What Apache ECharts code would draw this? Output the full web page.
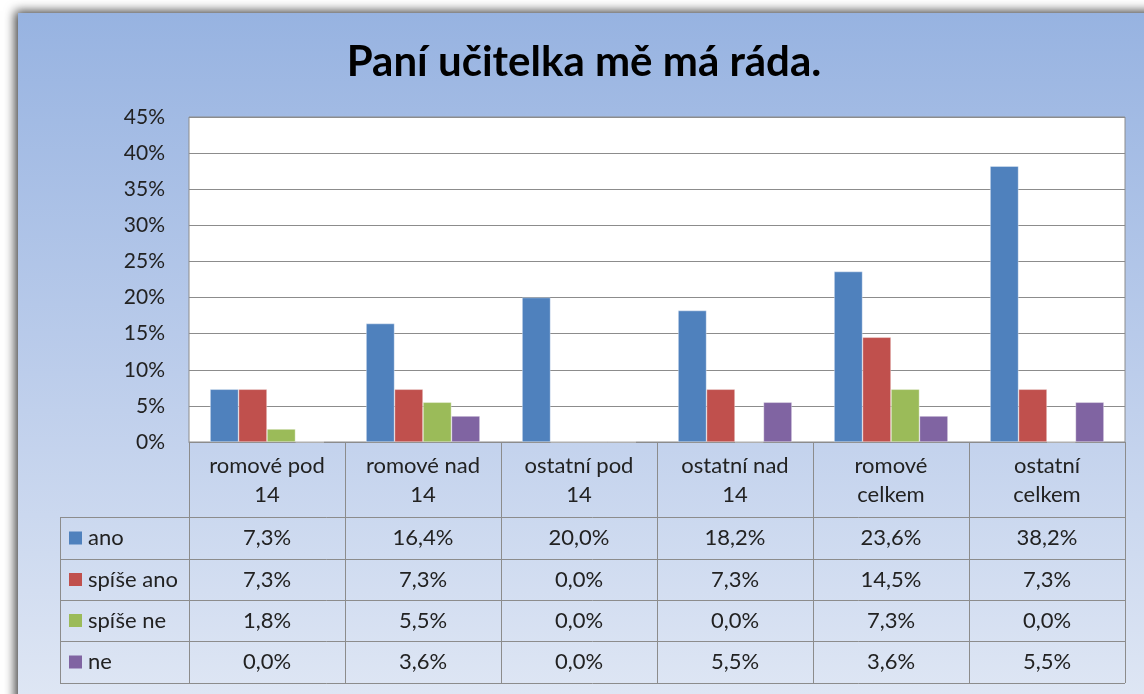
<!DOCTYPE html>
<html lang="cs" style="height: 100%">
  <head>
    <meta charset="utf-8" />
    <title>Paní učitelka mě má ráda.</title>
  </head>
  <body style="height: 100%; margin: 0; background: #ffffff">
    <div id="container" style="width: 1144px; height: 694px"></div>

    <script
      type="text/javascript"
      src="https://fastly.jsdelivr.net/npm/echarts@6/dist/echarts.min.js"
    ></script>

    <script type="text/javascript">
      var categories = [
        "romové pod\n14",
        "romové nad\n14",
        "ostatní pod\n14",
        "ostatní nad\n14",
        "romové\ncelkem",
        "ostatní\ncelkem",
      ];
      var seriesNames = ["ano", "spíše ano", "spíše ne", "ne"];
      var ano = [7.3, 16.4, 20.0, 18.2, 23.6, 38.2];
      var spiseAno = [7.3, 7.3, 0.0, 7.3, 14.5, 7.3];
      var spiseNe = [1.8, 5.5, 0.0, 0.0, 7.3, 0.0];
      var ne = [0.0, 3.6, 0.0, 5.5, 3.6, 5.5];
      var colors = ["#4f81bd", "#c0504d", "#9bbb59", "#8064a2"];

      var values = [ano, spiseAno, spiseNe, ne];
      var FONT = "Lato, 'Noto Sans', sans-serif";

      // table layout (pixels)
      var gridLeft = 189, gridRight = 1125, axisY = 442;
      var legendLeft = 60;
      var rowTops = [517, 559, 600, 641, 683];

      function fmt(v) {
        return v.toFixed(1).replace(".", ",") + "%";
      }

      var dom = document.getElementById("container");
      var myChart = echarts.init(dom, null, { renderer: "canvas" });

      var option = {
        animation: false,
        color: colors,
        title: {
          text: "Paní učitelka mě má ráda.",
          left: 579,
          textAlign: "center",
          top: 36,
          textStyle: {
            fontFamily: FONT,
            fontSize: 42,
            fontWeight: "bold",
            color: "#000",
          },
        },
        grid: {
          left: gridLeft,
          right: 1144 - gridRight,
          top: 117,
          bottom: 694 - axisY,
          show: true,
          backgroundColor: "#ffffff",
          borderColor: "#8c8c8c",
          borderWidth: 1,
        },
        xAxis: {
          type: "category",
          data: categories,
          axisLine: { lineStyle: { color: "#8c8c8c" } },
          axisTick: {
            show: true,
            length: rowTops[4] - axisY,
            lineStyle: { color: "#8c8c8c" },
          },
          axisLabel: {
            fontFamily: FONT,
            fontSize: 22,
            color: "#222",
            margin: 9,
            lineHeight: 29,
          },
        },
        yAxis: {
          type: "value",
          min: 0,
          max: 45,
          interval: 5,
          axisLine: { show: false },
          axisTick: { show: false },
          axisLabel: {
            formatter: "{value}%",
            fontFamily: FONT,
            fontSize: 21,
            color: "#222",
            margin: 24,
          },
          splitLine: { lineStyle: { color: "#8c8c8c", width: 1 } },
        },
        series: seriesNames.map(function (name, i) {
          return {
            name: name,
            type: "bar",
            data: values[i],
            barGap: "0%",
            barCategoryGap: "27%",
            itemStyle: {
              color: colors[i],
              borderColor: "rgba(255,255,255,0.6)",
              borderWidth: 0.6,
            },
          };
        }),
      };

      myChart.setOption(option);

      // background panel + data table
      var g = [];
      g.push({
        type: "rect",
        z: -10,
        silent: true,
        shape: { x: 18, y: 13, width: 1160, height: 720 },
        style: {
          fill: new echarts.graphic.LinearGradient(0, 0, 0, 1, [
            { offset: 0, color: "#97b3e1" },
            { offset: 0.5, color: "#bccdeb" },
            { offset: 1, color: "#e2e9f5" },
          ]),
          shadowBlur: 10,
          shadowColor: "rgba(0,0,0,0.75)",
          shadowOffsetX: -3,
          shadowOffsetY: -2,
        },
      });

      // horizontal table lines
      rowTops.forEach(function (y) {
        g.push({
          type: "line",
          silent: true,
          shape: { x1: legendLeft, y1: y + 0.5, x2: gridRight, y2: y + 0.5 },
          style: { stroke: "#8c8c8c", lineWidth: 1 },
        });
      });
      g.push({
        type: "line",
        silent: true,
        shape: {
          x1: legendLeft + 0.5,
          y1: rowTops[0],
          x2: legendLeft + 0.5,
          y2: rowTops[4],
        },
        style: { stroke: "#8c8c8c", lineWidth: 1 },
      });

      seriesNames.forEach(function (name, i) {
        var top = rowTops[i], h = rowTops[i + 1] - rowTops[i];
        var cy = top + h / 2;
        g.push({
          type: "rect",
          silent: true,
          shape: { x: 69, y: cy - 6.5, width: 13, height: 13 },
          style: { fill: colors[i] },
        });
        g.push({
          type: "text",
          silent: true,
          x: 88,
          y: cy,
          style: {
            text: name,
            fontFamily: FONT,
            fontSize: 22,
            fill: "#222",
            verticalAlign: "middle",
          },
        });
        values[i].forEach(function (v, j) {
          var cx = myChart.convertToPixel({ xAxisIndex: 0 }, j);
          g.push({
            type: "text",
            silent: true,
            x: cx,
            y: cy,
            style: {
              text: fmt(v),
              fontFamily: FONT,
              fontSize: 22,
              fill: "#222",
              align: "center",
              verticalAlign: "middle",
            },
          });
        });
      });

      myChart.setOption({ graphic: g });

      window.addEventListener("resize", myChart.resize);
    </script>
  </body>
</html>
